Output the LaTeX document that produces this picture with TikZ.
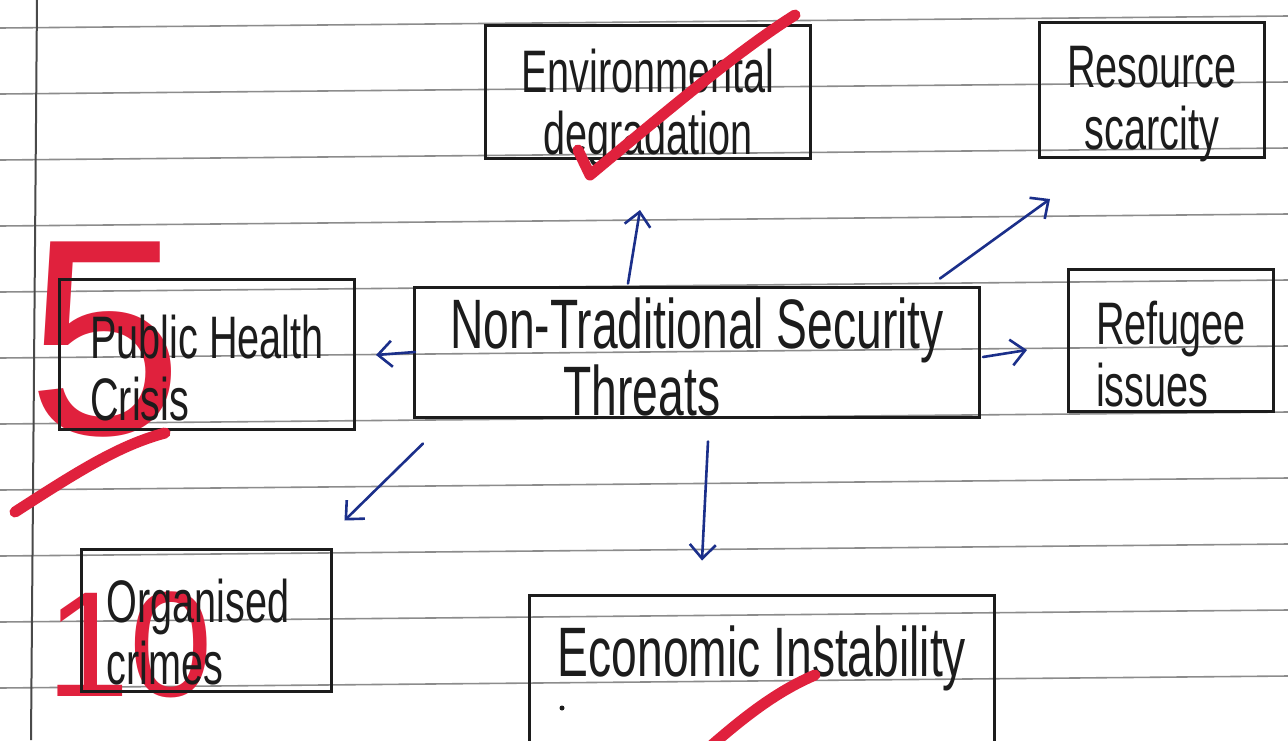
\documentclass[tikz,border=0pt]{standalone}
\usepackage{fontspec}
\setmainfont{Liberation Sans}
\newfontfamily\hand{Liberation Sans}[FakeStretch=0.66]
\usetikzlibrary{arrows.meta,calc}
\definecolor{ink}{HTML}{1C1C1C}
\definecolor{pen}{HTML}{1B2F8A}
\definecolor{redpen}{HTML}{E0213D}
\definecolor{ruling}{HTML}{8C8C8C}
\begin{document}
\begin{tikzpicture}[x=1pt,y=-1pt,
  box/.style={draw=ink,line width=3pt,rectangle,inner sep=0pt},
  txt/.style={inner sep=0pt,text=ink,font=\hand\fontsize{60}{62}\selectfont},
  bigtxt/.style={txt,font=\hand\fontsize{70}{64}\selectfont},
  arr/.style={draw=pen,line width=2.6pt,line cap=round,
    -{Straight Barb[length=14pt,width=26pt,line width=2.6pt]}},
  redstroke/.style={draw=redpen,line width=11pt,line cap=round,line join=round},
  grade/.style={text=redpen,inner sep=0pt}]
\useasboundingbox (0,0) rectangle (1288,740);
\fill[white] (0,0) rectangle (1288,740);
% ruled paper
\foreach \y in {28,94,160,226,292,358,424,490,556,622,688,754}
  \draw[ruling,line width=1.6pt] (0,\y) -- (1288,\y-12);
\draw[ink!80,line width=2pt] (37,0) -- (31,740);
% red grades (under the ink text)
\node[grade,font=\fontsize{280}{280}\selectfont] (five) at (105,340) {5};
\node[grade,font=\fontsize{150}{150}\selectfont] (ten) at (130,645) {10};
% boxes
\node[box,minimum width=325pt,minimum height=133pt] (env) at (648,92) {};
\node[box,minimum width=225pt,minimum height=135pt] (res) at (1152,90) {};
\node[box,minimum width=565pt,minimum height=130pt] (ntst) at (697,352) {};
\node[box,minimum width=295pt,minimum height=150pt] (ph) at (207,354) {};
\node[box,minimum width=205pt,minimum height=142pt] (ref) at (1171,340) {};
\node[box,minimum width=250pt,minimum height=142pt] (org) at (206,620) {};
\node[box,minimum width=465pt,minimum height=150pt] (eco) at (762,670) {};
% texts
\node[txt,align=center] (envt) at ($(env)+(0,16)$) {Environmental\\degradation};
\node[txt,align=center] (rest) at ($(res)+(0,14)$) {Resource\\scarcity};
\node[bigtxt,align=center] (ntstt) at ($(ntst)+(0,5)$) {Non-Traditional Security\\\hspace*{-110pt}Threats};
\node[txt,align=left] (pht) at ($(ph)+(0,14)$) {Public Health\\Crisis};
\node[txt,align=left] (reft) at ($(ref)+(0,14)$) {Refugee\\issues};
\node[txt,align=left] (orgt) at ($(org)+(-8,12)$) {Organised\\crimes};
\node[bigtxt] (ecot) at ($(eco)+(0,-12)$) {Economic Instability};
\fill[ink] (562,708) circle (2.5pt);
% arrows
\draw[arr] ($(ntst.north)+(-69,-2)$) -- ($(env.south)+(-8,50)$);
\draw[arr] ($(ntst.north)+(243,-7)$) -- ($(res.south west)+(12,40)$);
\draw[arr] ($(ntst.east)+(2,5)$) -- ($(ref.west)+(-40,10)$);
\draw[arr] ($(ntst.west)+(2,0)$) -- ($(ph.east)+(20,1)$);
\draw[arr] ($(ntst.south west)+(10,25)$) -- ($(org.north east)+(12,-27)$);
\draw[arr] ($(ntst.south)+(11,23)$) -- ($(eco.north)+(-60,-33)$);
% red ticks and slashes
\draw[redstroke] (15,512) .. controls (80,470) and (120,445) .. (165,433);
\draw[redstroke] (578,150) -- (590,175) .. controls (680,100) and (740,50) .. (795,15);
\draw[redstroke] (712,745) .. controls (750,712) and (780,690) .. (815,675);
\end{tikzpicture}
\end{document}
